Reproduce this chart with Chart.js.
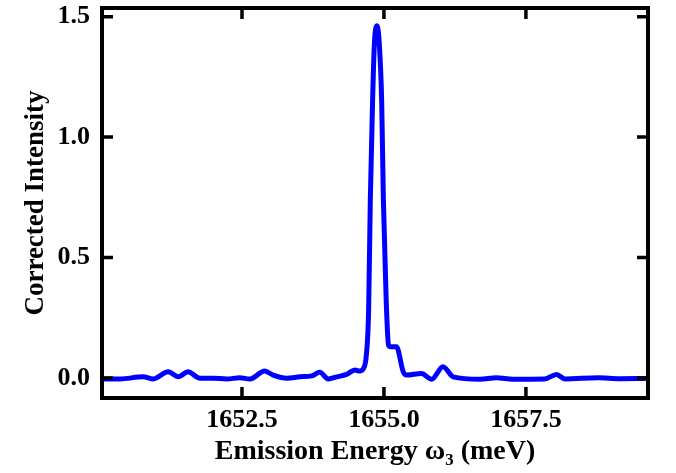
<!DOCTYPE html>
<html>
<head>
<meta charset="utf-8">
<script src="https://cdn.jsdelivr.net/npm/chart.js@4/dist/chart.umd.min.js"></script>
<style>
  html, body { margin:0; padding:0; background:#fff; }
  #wrap { width:676px; height:473px; }
</style>
</head>
<body>
<div id="wrap"><canvas id="chart"></canvas></div>
<script>
// --- données ---
const energy = [
  1650.035, 1650.35, 1650.76, 1650.94, 1651.20, 1651.38, 1651.55, 1651.76, 1651.99, 1652.23,
  1652.46, 1652.64, 1652.90, 1653.05, 1653.29, 1653.52, 1653.73, 1653.87, 1654.02, 1654.17,
  1654.34, 1654.49, 1654.57, 1654.64, 1654.69, 1654.73, 1654.76, 1654.80, 1654.83, 1654.88,
  1654.92, 1654.96, 1654.99, 1655.04, 1655.08, 1655.11, 1655.22, 1655.34, 1655.40, 1655.66,
  1655.84, 1656.04, 1656.22, 1656.69, 1656.98, 1657.27, 1657.83, 1658.04, 1658.19, 1658.77,
  1659.15, 1659.65
];
const intensity = [
  -0.004, -0.004, 0.005, -0.004, 0.026, 0.005, 0.026, -0.001, -0.001, -0.004,
  0.001, -0.004, 0.029, 0.012, -0.001, 0.005, 0.009, 0.024, -0.004, 0.005,
  0.015, 0.033, 0.029, 0.040, 0.095, 0.28, 0.74, 1.15, 1.38, 1.462,
  1.38, 1.15, 0.74, 0.32, 0.137, 0.13, 0.13, 0.026, 0.012, 0.019,
  -0.005, 0.047, 0.005, -0.005, 0.001, -0.005, -0.004, 0.015, -0.004, 0.001,
  -0.003, -0.002
];
const xTicks = [1652.5, 1655.0, 1657.5];
const yTicks = [0.0, 0.5, 1.0, 1.5];

const serif = "'Liberation Serif', 'DejaVu Serif', serif";

// cadre + graduations vers l'intérieur sur les 4 côtés
const framePlugin = {
  id: 'frame',
  afterDraw(chart) {
    const {ctx, chartArea: a, scales: {x, y}} = chart;
    ctx.save();
    ctx.strokeStyle = '#000';
    ctx.lineWidth = 4;
    ctx.strokeRect(a.left, a.top, a.right - a.left, a.bottom - a.top);
    const len = 11;
    ctx.lineWidth = 3.5;
    ctx.beginPath();
    xTicks.forEach(v => {
      const px = x.getPixelForValue(v);
      ctx.moveTo(px, a.bottom); ctx.lineTo(px, a.bottom - len);
      ctx.moveTo(px, a.top); ctx.lineTo(px, a.top + len);
    });
    yTicks.forEach(v => {
      const py = y.getPixelForValue(v);
      ctx.moveTo(a.left, py); ctx.lineTo(a.left + len, py);
      ctx.moveTo(a.right, py); ctx.lineTo(a.right - len, py);
    });
    ctx.stroke();
    ctx.restore();
  }
};

new Chart(document.getElementById('chart'), {
  type: 'line',
  data: {
    datasets: [{
      data: energy.map((e, i) => ({x: e, y: intensity[i]})),
      borderColor: '#0000FF',
      borderWidth: 5,
      pointRadius: 0,
      cubicInterpolationMode: 'monotone',
      borderJoinStyle: 'round',
      borderCapStyle: 'round',
      fill: false
    }]
  },
  options: {
    responsive: true,
    maintainAspectRatio: false,
    animation: false,
    devicePixelRatio: 1,
    layout: { padding: { left: 0, top: 8, right: 28, bottom: 0 } },
    plugins: { legend: { display: false }, tooltip: { enabled: false } },
    scales: {
      x: {
        type: 'linear',
        min: 1650.035, max: 1659.65,
        afterBuildTicks: s => { s.ticks = xTicks.map(v => ({value: v})); },
        afterFit: s => { s.height = 75; s.paddingLeft = 0; s.paddingRight = 0; },
        grid: { display: false, drawTicks: false },
        border: { display: false },
        ticks: {
          padding: 7,
          color: '#000',
          font: { family: serif, size: 26, weight: 'bold' },
          callback: v => v.toFixed(1)
        },
        title: {
          display: true,
          text: 'Emission Energy ω₃ (meV)',
          color: '#000',
          font: { family: serif, size: 28, weight: 'bold' },
          padding: { top: 0, bottom: 4 }
        }
      },
      y: {
        min: -0.083, max: 1.536,
        afterBuildTicks: s => { s.ticks = yTicks.map(v => ({value: v})); },
        afterFit: s => { s.width = 102; s.paddingTop = 0; s.paddingBottom = 0; },
        grid: { display: false, drawTicks: false },
        border: { display: false },
        ticks: {
          padding: 12,
          color: '#000',
          font: { family: serif, size: 26, weight: 'bold' },
          callback: v => v.toFixed(1)
        },
        title: {
          display: true,
          text: 'Corrected Intensity',
          color: '#000',
          font: { family: serif, size: 27, weight: 'bold' },
          padding: { top: 20, bottom: 0 }
        }
      }
    }
  },
  plugins: [framePlugin]
});
</script>
</body>
</html>
